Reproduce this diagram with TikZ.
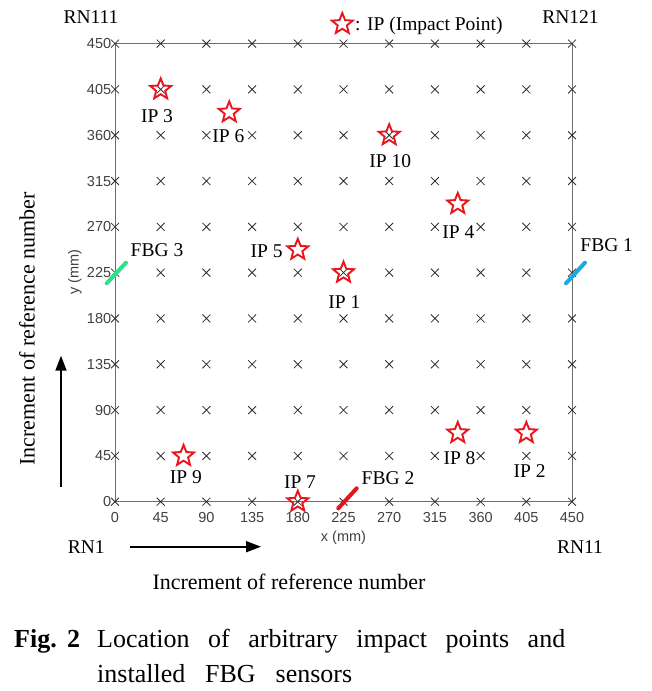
\documentclass[tikz,border=0pt]{standalone}
\usepackage{fontspec}
\setmainfont{Liberation Serif}
\newfontfamily\arialfont{Liberation Sans}
\usetikzlibrary{shapes.geometric,arrows.meta}
\definecolor{ipred}{RGB}{232,22,30}
\definecolor{fbggreen}{RGB}{46,226,140}
\definecolor{fbgblue}{RGB}{28,168,228}
\definecolor{fbgred}{RGB}{228,20,30}
\definecolor{tickgray}{RGB}{64,64,64}
\definecolor{axisgray}{RGB}{110,110,110}
\definecolor{crossgray}{RGB}{45,45,45}
\tikzset{
  ticklab/.style={inner sep=0pt, text=tickgray, font=\arialfont\fontsize{14.5}{16}\selectfont},
  lab/.style={inner sep=0pt, font=\fontsize{19.5}{22}\selectfont},
  bigtext/.style={inner sep=0pt, font=\fontsize{22}{26}\selectfont},
  capfont/.style={inner sep=0pt, anchor=base west, font=\fontsize{26}{30}\selectfont},
  ipstar/.style={star, star points=5, star point ratio=2.3, minimum size=22pt, inner sep=0pt, draw=ipred, line width=1.9pt},
  crossmark/.style={draw=crossgray, line width=0.8pt},
  fbgline/.style={line width=4pt, line cap=round},
  bigarrow/.style={line width=1.8pt, -{Triangle[length=15pt,width=11pt]}},
  frame/.style={draw=axisgray, line width=1pt}
}
\begin{document}
\begin{tikzpicture}[x=1pt,y=-1pt]
\useasboundingbox (0,0) rectangle (651,691);
\begin{scope}[shift={(115,501.7)}, x=1.0156pt, y=1.018pt]
  % frame
  \draw[frame] (0,0) rectangle (450,450);
  % grid crosses
  \foreach \i in {0,...,10}{
    \foreach \j in {0,...,10}{
      \draw[crossmark] (\i*45-3.9,\j*45-3.9) -- (\i*45+3.9,\j*45+3.9)
                       (\i*45-3.9,\j*45+3.9) -- (\i*45+3.9,\j*45-3.9);
    }
  }
  % tick labels
  \foreach \v in {0,45,...,450}{
    \node[ticklab, anchor=east] (yt\v) at (-3.6,\v) {\v};
    \node[ticklab, anchor=center] (xt\v) at (\v,-15.5) {\v};
  }
  \node[ticklab] (xlab) at (225,-35) {x (mm)};
  \node[ticklab, rotate=90] (ylab) at (-39.4,225.5) {y (mm)};
  % impact points
  \node[ipstar] (s1) at (225,225) {};
  \node[ipstar] (s2) at (405,67.5) {};
  \node[ipstar] (s3) at (45,405) {};
  \node[ipstar] (s4) at (337.5,292.5) {};
  \node[ipstar] (s5) at (180,247.5) {};
  \node[ipstar] (s6) at (112.5,382.5) {};
  \node[ipstar] (s7) at (180,0) {};
  \node[ipstar] (s8) at (337.5,67.5) {};
  \node[ipstar] (s9) at (67.5,45) {};
  \node[ipstar] (s10) at (270,360) {};
\end{scope}
% FBG sensors
\coordinate (f3a) at (106.7,283.3); \coordinate (f3b) at (126,262.7);
\coordinate (f1a) at (566,283.3);   \coordinate (f1b) at (585,262.7);
\coordinate (f2a) at (338.3,508.3); \coordinate (f2b) at (356.7,488.3);
\draw[fbgline, fbggreen] (f3a) -- (f3b);
\draw[fbgline, fbgblue] (f1a) -- (f1b);
\draw[fbgline, fbgred] (f2a) -- (f2b);
\node[lab] (fbg3) at (157,250) {FBG 3};
\node[lab] (fbg1) at (606.7,245) {FBG 1};
\node[lab] (fbg2) at (388,478.3) {FBG 2};
% IP labels
\node[lab] (l3) at (157,115.7) {IP 3};
\node[lab] (l6) at (228.3,136) {IP 6};
\node[lab] (l10) at (390.3,160.7) {IP 10};
\node[lab] (l4) at (458.3,232.3) {IP 4};
\node[lab] (l5) at (266.7,251.7) {IP 5};
\node[lab] (l1) at (344.3,301.7) {IP 1};
\node[lab] (l8) at (459.5,457.7) {IP 8};
\node[lab] (l2) at (529.7,470.7) {IP 2};
\node[lab] (l9) at (185.8,477.3) {IP 9};
\node[lab] (l7) at (300,481.7) {IP 7};
% legend
\node[ipstar] (legstar) at (342.3,24) {};
\node[lab, anchor=base west] (legtext) at (355,30.5) {: IP (Impact Point)};
% corner labels
\node[lab] (rn111) at (91,17.3) {RN111};
\node[lab] (rn121) at (570.5,17) {RN121};
\node[lab] (rn1) at (86.3,546.7) {RN1};
\node[lab] (rn11) at (580,546.7) {RN11};
% arrows
\coordinate (ha0) at (130,546.7); \coordinate (ha1) at (261,546.7);
\coordinate (va0) at (61,486.7);  \coordinate (va1) at (61,355.7);
\draw[bigarrow] (ha0) -- (ha1);
\draw[bigarrow] (va0) -- (va1);
\node[bigtext] (hlab) at (289,581.7) {Increment of reference number};
\node[bigtext, rotate=90] (vlab) at (27,329) {Increment of reference number};
% caption
\node[capfont] (figno) at (14,647) {\hbox to 66pt{\bfseries Fig.\hfill 2}};
\node[capfont] (cap1) at (97,647) {\hbox to 468pt{Location\hfill of\hfill arbitrary\hfill impact\hfill points\hfill and}};
\node[capfont] (cap2) at (97,682) {\hbox to 255pt{installed\hfill FBG\hfill sensors}};
\end{tikzpicture}
\end{document}
